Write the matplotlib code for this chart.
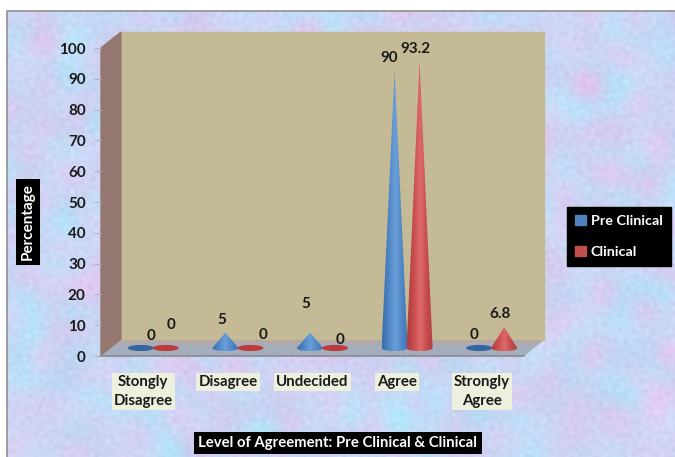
import numpy as np
import matplotlib
matplotlib.use('Agg')
import matplotlib.pyplot as plt
from matplotlib.colors import LinearSegmentedColormap, to_rgb
from matplotlib.patches import Patch, PathPatch, Polygon, Rectangle
from matplotlib.path import Path

categories = ['Stongly\nDisagree', 'Disagree', 'Undecided', 'Agree', 'Strongly\nAgree']
pre_clinical = [0, 5, 5, 90, 0]
clinical = [0, 0, 0, 93.2, 6.8]
yticks = [0, 10, 20, 30, 40, 50, 60, 70, 80, 90, 100]

# label offsets from the cone tip, in pixels
pre_nudge = [(10, 12), (-4, 13), (-4, 29), (-5, 13), (-5, 13)]
cli_nudge = [(5, 23), (13, 13), (5, 8), (-4, 12), (-4, 13)]

W, H = 675, 457
plt.rcParams['font.family'] = ['Lato', 'DejaVu Sans']
plt.rcParams['font.weight'] = 'bold'

fig = plt.figure(figsize=(W / 100, H / 100), dpi=100, facecolor='white')

# mottled backdrop, sum of sines so that it stays the same on every run
bg = fig.add_axes([0, 0, 1, 1])
yy, xx = np.mgrid[0:H, 0:W]
def mottle(start, f0, step, terms):
    f = np.zeros((H, W))
    for k in range(start, start + terms):
        ang = k * 2.399963
        fr = f0 + step * (k - start)
        f += np.sin(xx * fr * np.cos(ang) + yy * fr * np.sin(ang) + k * k * 0.7)
    return np.clip(f / (2.2 * np.sqrt(terms)), -1, 1)
a = mottle(1, 0.03, 0.003, 40)
b = mottle(60, 0.02, 0.004, 40)
c = mottle(120, 0.4, 0.015, 40)
tex = np.zeros((H, W, 3))
tex[..., 0] = 203 + 24 * b
tex[..., 1] = 213 - 13 * b + 8 * a
tex[..., 2] = 244 + 5 * a - 3 * b
tex += c[..., None] * 7
bg.imshow(np.clip(tex, 0, 255).astype(np.uint8), extent=(0, W, H, 0), aspect='auto', interpolation='bilinear')
bg.add_patch(Rectangle((0, 0), 6, H, color='white'))
bg.add_patch(Rectangle((0, 0), W, 10, color='white'))
bg.plot([6.5, 6.5, W], [H, 10.5, 10.5], color='#8f8f8f', lw=1.2)
bg.set_xlim(0, W)
bg.set_ylim(H, 0)
bg.axis('off')

# main axes: y is the front edge of the 3D box
left, right, top, bottom = 101, 524, 48, 356
ax = fig.add_axes([left / W, 1 - bottom / H, (right - left) / W, (bottom - top) / H])
ax.patch.set_alpha(0)
n = len(categories)
dx, dy = 0.236, 5.2

ax.add_patch(Polygon([(dx, dy), (n + dx, dy), (n + dx, 100 + dy), (dx, 100 + dy)], color='#C4BB96', clip_on=False, zorder=1))
ax.add_patch(Polygon([(0, 0), (dx, dy), (dx, 100 + dy), (0, 100)], color='#94786F', clip_on=False, zorder=1))

# floor as thin bands, grey in front and brownish at the back
front, back = np.array(to_rgb('#A4ADBB')), np.array(to_rgb('#BBA79C'))
bands = 16
for j in range(bands):
    f0, f1 = j / bands, (j + 1) / bands
    mix = max(0, (f0 - 0.55) / 0.45)
    ax.add_patch(Polygon([(f0 * dx, f0 * dy), (n + f0 * dx, f0 * dy), (n + f1 * dx, f1 * dy), (f1 * dx, f1 * dy)],
                         facecolor=front * (1 - mix) + back * mix, edgecolor='none', clip_on=False, zorder=2))
ax.plot([0, n], [0, 0], color='#8a8a8a', lw=1.2, zorder=3, clip_on=False)

blue_cm = LinearSegmentedColormap.from_list('b', ['#3A6DAB', '#4F86C6', '#6A9FD8', '#4F86C6', '#3E71AF'])
red_cm = LinearSegmentedColormap.from_list('r', ['#AE3C3F', '#C94C4E', '#DD6A6A', '#C54A4C', '#AE3F41'])
hw, hh = 0.154, 1.0
base = dy / 2

def cone(xc, value, cmap, flat):
    t = np.linspace(0, np.pi, 40)
    if value > 0:
        verts = [(xc, base + value)] + list(zip(xc + hw * np.cos(t), base - hh * np.sin(t)))
    else:
        t = np.linspace(0, 2 * np.pi, 60)
        verts = list(zip(xc + hw * np.cos(t), base + hh * np.sin(t)))
    verts = verts + [verts[0]]
    clip = PathPatch(Path(verts), transform=ax.transData)
    if value > 0:
        g = ax.imshow(np.linspace(0, 1, 64)[None, :], extent=(xc - hw, xc + hw, base - hh, base + value),
                      cmap=cmap, aspect='auto', zorder=4, interpolation='bilinear')
    else:
        g = ax.imshow(np.full((2, 2), 0.5), extent=(xc - hw, xc + hw, base - hh, base + hh),
                      cmap=LinearSegmentedColormap.from_list('f', [flat, flat]), vmin=0, vmax=1, aspect='auto', zorder=4)
    g.set_clip_path(clip)

px = n / (right - left) * 1.0
for i in range(n):
    xc = i + 0.5 + dx / 2
    xb, xr = xc - 12.5 * px, xc + 12.5 * px
    cone(xb, pre_clinical[i], blue_cm, '#34659F')
    cone(xr, clinical[i], red_cm, '#BC3A3C')
    ax.annotate(str(pre_clinical[i]), (xb, base + pre_clinical[i]), xytext=(pre_nudge[i][0] * 0.72, pre_nudge[i][1] * 0.72),
                textcoords='offset points', ha='center', va='center', fontsize=11, color='#1a1a1a', zorder=6)
    ax.annotate(str(clinical[i]), (xr, base + clinical[i]), xytext=(cli_nudge[i][0] * 0.72, cli_nudge[i][1] * 0.72),
                textcoords='offset points', ha='center', va='center', fontsize=11, color='#1a1a1a', zorder=6)

ax.set_xlim(0, n)
ax.set_ylim(0, 100)
for s in ax.spines.values():
    s.set_visible(False)
ax.set_yticks(yticks)
ax.tick_params(axis='y', length=5, color='#b4b4b4', pad=6, labelsize=11, labelcolor='#1a1a1a')
ax.set_xticks(np.arange(n) + 0.5)
ax.set_xticklabels(categories, fontsize=10.8, color='#1a1a1a', linespacing=1.5,
                   bbox=dict(facecolor='#ECF0DC', edgecolor='none', pad=1.5))
ax.tick_params(axis='x', length=0, pad=13.5)

fig.text(28 / W, 1 - 222 / H, 'Percentage', rotation=90, ha='center', va='center', color='white', fontsize=11,
         bbox=dict(facecolor='black', edgecolor='none', pad=3.5))
fig.text(338 / W, 1 - 443 / H, 'Level of Agreement: Pre Clinical & Clinical', ha='center', va='center', color='white',
         fontsize=10.7, bbox=dict(facecolor='black', edgecolor='none', pad=3))

handles = [Patch(color='#4F81BD', label='Pre Clinical'), Patch(color='#C0504D', label='Clinical')]
leg = ax.legend(handles=handles, loc='center left', bbox_to_anchor=(567 / W, 1 - 236.5 / H), bbox_transform=fig.transFigure,
                facecolor='black', edgecolor='black', framealpha=1, fancybox=False, labelcolor='white', fontsize=10.4,
                handlelength=0.75, handleheight=0.75, handletextpad=0.35, labelspacing=1.3, borderaxespad=0, borderpad=0.55)
leg.set_zorder(10)

fig.savefig('out.png', dpi=100)
